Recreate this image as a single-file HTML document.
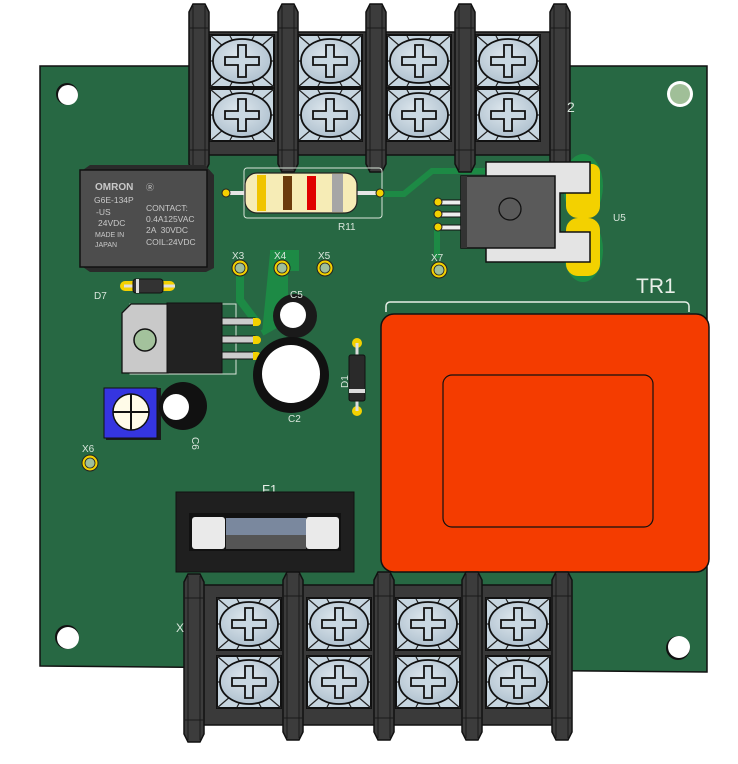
<!DOCTYPE html>
<html><head><meta charset="utf-8"><style>
html,body{margin:0;padding:0;background:#fff;width:738px;height:764px;overflow:hidden}
svg{display:block}
text{font-family:"Liberation Sans",sans-serif}
</style></head><body>
<svg width="738" height="764" viewBox="0 0 738 764" xmlns="http://www.w3.org/2000/svg">
<defs>
<radialGradient id="sg" cx="0.45" cy="0.4" r="0.7"><stop offset="0" stop-color="#dfe8ee"/><stop offset="1" stop-color="#a9bccb"/></radialGradient>
<g id="cell">
 <rect x="0" y="0" width="64" height="52" fill="#c7d6e0" stroke="#111" stroke-width="2"/>
 <path d="M0 0L14 12M64 0L50 12M0 52L14 40M64 52L50 40M20 1L24 8M44 1L40 8M20 51L24 44M44 51L40 44M1 26L4 26M63 26L60 26" stroke="#222" stroke-width="1.2"/>
 <ellipse cx="32" cy="26" rx="29" ry="22" fill="url(#sg)" stroke="#111" stroke-width="1.8"/>
 <path d="M28 10h8v12h13v8h-13v12h-8v-12h-13v-8h13z" fill="#c9d8e2" stroke="#111" stroke-width="1.8"/>
</g>
<g id="post">
 <path d="M2 8L6 0H18L22 8V160L18 168H6L2 160Z" fill="#3c3c3c" stroke="#111" stroke-width="1.5"/>
 <path d="M6 2V166M18 2V166M2 24H22M2 146H22" stroke="#1a1a1a" stroke-width="1"/>
</g>
<g id="pad"><circle r="8" fill="#f3d100" stroke="#222" stroke-width="1"/><circle r="5" fill="#9fbf9b" stroke="#222" stroke-width="0.8"/></g>
</defs>

<!-- board -->
<path d="M40 66H707V672L40 666Z" fill="#276843" stroke="#111" stroke-width="1.5"/>
<circle cx="67" cy="94" r="11" fill="#111"/><circle cx="68" cy="95" r="10" fill="#fff"/>
<circle cx="680" cy="94" r="13" fill="#fff"/><circle cx="680" cy="94" r="10" fill="#a0bf98"/>
<circle cx="67" cy="637" r="12" fill="#111"/><circle cx="68" cy="638" r="11" fill="#fff"/>
<circle cx="678" cy="648" r="12" fill="#111"/><circle cx="679" cy="647" r="11" fill="#fff"/>

<!-- traces -->
<path d="M380 194H404L432 171H485" stroke="#1d8a45" stroke-width="6" fill="none"/>
<path d="M540 170H580" stroke="#1d8a45" stroke-width="6" fill="none"/>
<path d="M437 228V258" stroke="#1d8a45" stroke-width="6" fill="none"/>
<path d="M240 265V300L255 320" stroke="#1d8a45" stroke-width="8" fill="none"/>
<path d="M270 253H296V268H285V320L262 333" stroke="#1d8a45" stroke-width="6" fill="#1d8a45"/>

<!-- U5 pads -->
<ellipse cx="583" cy="186" rx="20" ry="32" fill="#1d8a45"/>
<ellipse cx="583" cy="250" rx="20" ry="32" fill="#1d8a45"/>
<path d="M566 164h26a8 8 0 0 1 8 8v34a12 12 0 0 1-12 12h-10a12 12 0 0 1-12-12z" fill="#f3d100"/>
<path d="M566 230a12 12 0 0 1 12-12h10a12 12 0 0 1 12 12v34a12 12 0 0 1-12 12h-10a12 12 0 0 1-12-12z" fill="#f3d100"/>

<!-- top terminal block -->
<rect x="200" y="32" width="360" height="123" fill="#3a3a3a" stroke="#111" stroke-width="1.5"/>
<use href="#cell" x="210" y="35"/><use href="#cell" x="298" y="35"/><use href="#cell" x="387" y="35"/><use href="#cell" x="476" y="35"/>
<use href="#cell" x="210" y="89"/><use href="#cell" x="298" y="89"/><use href="#cell" x="387" y="89"/><use href="#cell" x="476" y="89"/>
<use href="#post" x="187" y="4"/><use href="#post" x="276" y="4"/><use href="#post" x="364" y="4"/><use href="#post" x="453" y="4"/><use href="#post" x="548" y="4"/>
<text x="567" y="112" fill="#d9e6dc" font-size="14">2</text>

<!-- relay -->
<path d="M80 172L90 165H205L214 175V268L206 272H90L80 265Z" fill="#2a2a2a"/>
<rect x="80" y="170" width="127" height="97" fill="#4d4d4d" stroke="#111" stroke-width="1.5"/>
<g fill="#c9c9c9" font-size="8.5">
<text x="95" y="190" font-size="10" font-weight="bold">OMRON</text>
<text x="94" y="203">G6E-134P</text><text x="96" y="215">-US</text>
<text x="98" y="226">24VDC</text><text x="95" y="237" font-size="7">MADE IN</text><text x="95" y="247" font-size="7">JAPAN</text>
<text x="146" y="190" font-size="8">Ⓡ</text>
<text x="146" y="211">CONTACT:</text><text x="146" y="222">0.4A125VAC</text>
<text x="146" y="233">2A &#160;30VDC</text><text x="146" y="245">COIL:24VDC</text>
</g>

<!-- R11 -->
<rect x="244" y="168" width="138" height="50" rx="3" fill="none" stroke="#d8e4d8" stroke-width="1"/>
<line x1="226" y1="193" x2="382" y2="193" stroke="#e6e6e6" stroke-width="4"/>
<circle cx="226" cy="193" r="4" fill="#f3d100" stroke="#222"/><circle cx="380" cy="193" r="4" fill="#f3d100" stroke="#222"/>
<rect x="245" y="173" width="112" height="40" rx="12" fill="#f6ecb6" stroke="#222" stroke-width="1.2"/>
<rect x="257" y="175" width="9" height="36" fill="#f0c400"/><rect x="283" y="176" width="9" height="34" fill="#6b3b0c"/>
<rect x="307" y="176" width="9" height="34" fill="#e00000"/><rect x="332" y="174" width="11" height="38" fill="#a6a6a6"/>
<text x="338" y="230" fill="#d9e6dc" font-size="10">R11</text>

<!-- U5 -->
<path d="M486 162H590V193H560V232H590V262H486Z" fill="#e4e4e4" stroke="#111" stroke-width="1.5"/>
<g stroke="#111" stroke-width="1" fill="#eee"><rect x="438" y="200" width="24" height="5"/><rect x="438" y="212" width="24" height="5"/><rect x="438" y="225" width="24" height="5"/></g>
<circle cx="438" cy="202" r="4" fill="#f3d100" stroke="#222"/><circle cx="438" cy="214" r="4" fill="#f3d100" stroke="#222"/><circle cx="438" cy="227" r="4" fill="#f3d100" stroke="#222"/>
<rect x="461" y="176" width="94" height="72" fill="#5a5a5a" stroke="#111" stroke-width="1.5"/>
<rect x="461" y="176" width="6" height="72" fill="#333"/>
<circle cx="510" cy="209" r="11" fill="none" stroke="#111" stroke-width="1.3"/>
<text x="613" y="221" fill="#d9e6dc" font-size="10">U5</text>

<!-- X labels -->
<g fill="#d9e6dc" font-size="10"><text x="232" y="259">X3</text><text x="274" y="259">X4</text><text x="318" y="259">X5</text><text x="431" y="261">X7</text><text x="82" y="452">X6</text></g>
<use href="#pad" x="240" y="268"/><use href="#pad" x="282" y="268"/><use href="#pad" x="325" y="268"/><use href="#pad" x="439" y="270"/><use href="#pad" x="90" y="463"/>

<!-- D7 -->
<rect x="120" y="281" width="55" height="10" rx="5" fill="#f3d100"/>
<line x1="124" y1="286" x2="175" y2="286" stroke="#ddd" stroke-width="3"/>
<rect x="133" y="279" width="30" height="14" rx="3" fill="#333" stroke="#111"/><rect x="136" y="279" width="3" height="14" fill="#ddd"/>
<text x="94" y="299" fill="#d9e6dc" font-size="10">D7</text>

<!-- regulator -->
<rect x="130" y="304" width="106" height="70" fill="none" stroke="#d8e4d8" stroke-width="1"/>
<path d="M122 313L131 304H168V373H122Z" fill="#c9c9c9" stroke="#111" stroke-width="1.3"/>
<circle cx="145" cy="340" r="11" fill="#a3c29c" stroke="#111" stroke-width="1.5"/>
<rect x="167" y="303" width="55" height="70" fill="#222" stroke="#111"/>
<g fill="#ccc" stroke="#111"><rect x="222" y="318" width="33" height="7"/><rect x="222" y="336" width="33" height="7"/><rect x="222" y="352" width="33" height="7"/></g>
<path d="M253 318h4a4 4 0 0 1 0 8h-4zM253 336h4a4 4 0 0 1 0 8h-4zM253 352h4a4 4 0 0 1 0 8h-4z" fill="#f3d100"/>

<!-- C5 -->
<circle cx="295" cy="316" r="22" fill="#1a1a1a"/><circle cx="293" cy="315" r="13" fill="#fff"/>
<text x="290" y="298" fill="#d9e6dc" font-size="10">C5</text>
<!-- C2 -->
<circle cx="291" cy="375" r="38" fill="#111"/><circle cx="291" cy="374" r="29" fill="#fff"/>
<text x="288" y="422" fill="#d9e6dc" font-size="10">C2</text>
<!-- D1 -->
<circle cx="357" cy="343" r="5" fill="#f3d100"/><circle cx="357" cy="411" r="5" fill="#f3d100"/>
<line x1="357" y1="343" x2="357" y2="411" stroke="#ddd" stroke-width="3"/>
<rect x="349" y="355" width="16" height="46" rx="2" fill="#2a2a2a" stroke="#111"/><rect x="349" y="389" width="16" height="4" fill="#ddd"/>
<text x="348" y="388" fill="#d9e6dc" font-size="10" transform="rotate(-90 348 388)">D1</text>

<!-- pot -->
<rect x="106" y="388" width="55" height="52" fill="#1a1a1a"/>
<rect x="104" y="388" width="53" height="50" fill="#3535e0" stroke="#111"/>
<circle cx="131" cy="412" r="18" fill="#fffbe8" stroke="#111" stroke-width="1.5"/>
<path d="M131 394V430M113 412H149" stroke="#111" stroke-width="2"/>
<!-- C6 -->
<circle cx="183" cy="406" r="24" fill="#111"/><circle cx="176" cy="407" r="13" fill="#fff"/>
<text x="192" y="437" fill="#d9e6dc" font-size="10" transform="rotate(90 192 437)">C6</text>

<!-- transformer -->
<path d="M386 312V306a4 4 0 0 1 4-4H685a4 4 0 0 1 4 4V312" fill="none" stroke="#e8efe8" stroke-width="1.5"/>
<text x="636" y="293" fill="#e8efe8" font-size="21">TR1</text>
<rect x="381" y="314" width="328" height="258" rx="13" fill="#f43c00" stroke="#111" stroke-width="1.5"/>
<rect x="443" y="375" width="210" height="152" rx="9" fill="#f43c00" stroke="#111" stroke-width="1.2"/>

<!-- fuse -->
<text x="262" y="494" fill="#e8efe8" font-size="13">F1</text>
<rect x="176" y="492" width="178" height="80" fill="#1f1f1f" stroke="#111"/>
<rect x="189" y="513" width="152" height="38" fill="#111"/>
<rect x="192" y="517" width="33" height="32" rx="3" fill="#eaeaea"/><rect x="306" y="517" width="33" height="32" rx="3" fill="#eaeaea"/>
<rect x="226" y="518" width="80" height="17" fill="#7a889e"/><rect x="226" y="535" width="80" height="14" fill="#555"/>

<!-- bottom terminal block -->
<rect x="196" y="585" width="366" height="140" fill="#3a3a3a" stroke="#111" stroke-width="1.5"/>
<use href="#cell" x="217" y="598"/><use href="#cell" x="307" y="598"/><use href="#cell" x="396" y="598"/><use href="#cell" x="486" y="598"/>
<use href="#cell" x="217" y="656"/><use href="#cell" x="307" y="656"/><use href="#cell" x="396" y="656"/><use href="#cell" x="486" y="656"/>
<use href="#post" x="182" y="574"/><use href="#post" x="281" y="572"/><use href="#post" x="372" y="572"/><use href="#post" x="460" y="572"/><use href="#post" x="550" y="572"/>
<text x="176" y="632" fill="#d9e6dc" font-size="12">X</text>
</svg>
</body></html>
